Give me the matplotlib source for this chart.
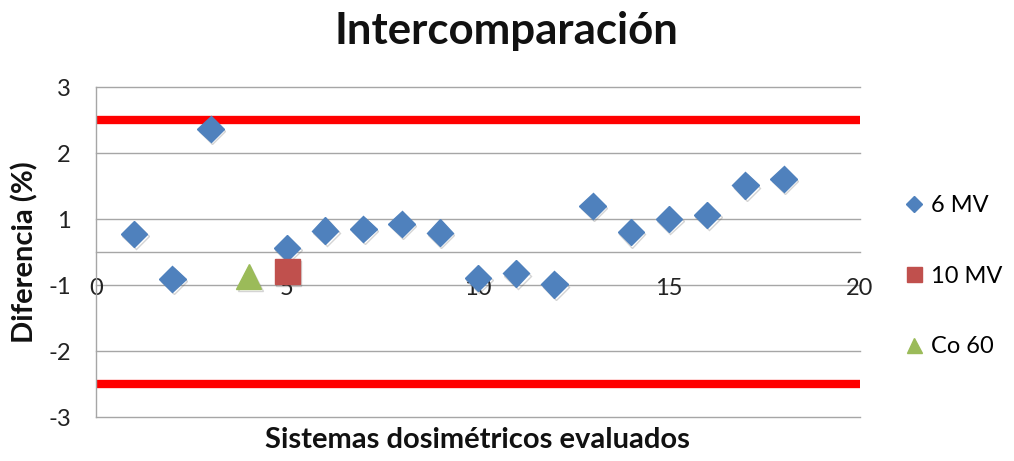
import numpy as np
import matplotlib
matplotlib.use("Agg")
import matplotlib.pyplot as plt
from matplotlib import patheffects as pe
from matplotlib.ticker import FuncFormatter

# Diferencias por sistema dosimétrico (%)
x_6mv = [1, 2, 3, 5, 6, 7, 8, 9, 10, 11, 12, 13, 14, 15, 16, 17, 18]
y_6mv = [0.33, -0.49, 2.24, 0.07, 0.39, 0.42, 0.51, 0.35, -0.47, -0.39,
         -0.59, 0.84, 0.36, 0.60, 0.67, 1.21, 1.33]
x_10mv = [5]
y_10mv = [-0.36]
x_co60 = [4]
y_co60 = [-0.45]
tolerance = 2.4
x_limits = [0, 20]

series_labels = ["6 MV", "10 MV", "Co 60"]
title = "Intercomparación"
xlabel = "Sistemas dosimétricos evaluados"
ylabel = "Diferencia (%)"

plt.rcParams['font.family'] = ['Lato', 'DejaVu Sans']

fig = plt.figure(figsize=(10.14, 4.61), dpi=100)
ax = fig.add_axes([96 / 1014, 1 - 417 / 461, (860 - 96) / 1014, (417 - 87) / 461])

ax.set_xlim(0, 20)
ax.set_ylim(-3, 3)

grid_c = "#A6A6A6"
yt = np.arange(-3, 3.001, 1.2)
ax.set_yticks(yt)
ax.yaxis.set_major_formatter(FuncFormatter(lambda v, p: "{:.0f}".format(v)))
ax.set_xticks([0, 5, 10, 15, 20])
for v in yt:
    ax.axhline(v, color=grid_c, lw=1.0, zorder=1)

for s in ["top", "right"]:
    ax.spines[s].set_visible(False)
ax.spines["bottom"].set_position(("data", 0))
ax.spines["bottom"].set_color(grid_c)
ax.spines["left"].set_color(grid_c)
ax.spines["bottom"].set_linewidth(1.0)
ax.spines["left"].set_linewidth(1.0)

ax.tick_params(axis="x", length=0, pad=19, labelsize=17, colors="#222222")
ax.tick_params(axis="y", length=0, pad=18, labelsize=17, colors="#222222")

# tolerance limits
ax.plot(x_limits, [tolerance, tolerance], color="#FF0000", lw=6, zorder=2,
        solid_capstyle="butt")
ax.plot(x_limits, [-tolerance, -tolerance], color="#FF0000", lw=6, zorder=2,
        solid_capstyle="butt")

shadow = [pe.SimpleLineShadow(offset=(1.0, -1.5), alpha=0.25, shadow_color="#555555"),
          pe.Normal()]

ax.plot(x_6mv, y_6mv, ls="none", marker="D", ms=13.5, color="#4F81BD",
        mec="#4F81BD", zorder=4, label=series_labels[0], path_effects=shadow)
ax.plot(x_10mv, y_10mv, ls="none", marker="s", ms=18, color="#C0504D",
        mec="#C0504D", zorder=4, label=series_labels[1], path_effects=shadow)
ax.plot(x_co60, y_co60, ls="none", marker="^", ms=18, color="#9BBB59",
        mec="#9BBB59", zorder=4, label=series_labels[2], path_effects=shadow)

for ln in ax.lines:
    ln.set_clip_on(False)

leg = ax.legend(loc="center left", bbox_to_anchor=(883 / 1014, 1 - 276 / 461),
                bbox_transform=fig.transFigure, frameon=False, fontsize=17,
                labelspacing=2.1, handlelength=0.8, handletextpad=0.35,
                markerscale=0.6)
for h in leg.legend_handles:
    h.set_path_effects([])

fig.text(506 / 1014, 1 - 31 / 461, title, ha="center", va="center",
         fontsize=31.5, fontweight="bold", color="#111111")
fig.text(477 / 1014, 1 - 440 / 461, xlabel, ha="center", va="center",
         fontsize=21, fontweight="bold", color="#111111")
fig.text(25 / 1014, 1 - 252 / 461, ylabel, ha="center", va="center",
         rotation=90, fontsize=21, fontweight="bold", color="#111111")

fig.savefig("out.png", dpi=100)
